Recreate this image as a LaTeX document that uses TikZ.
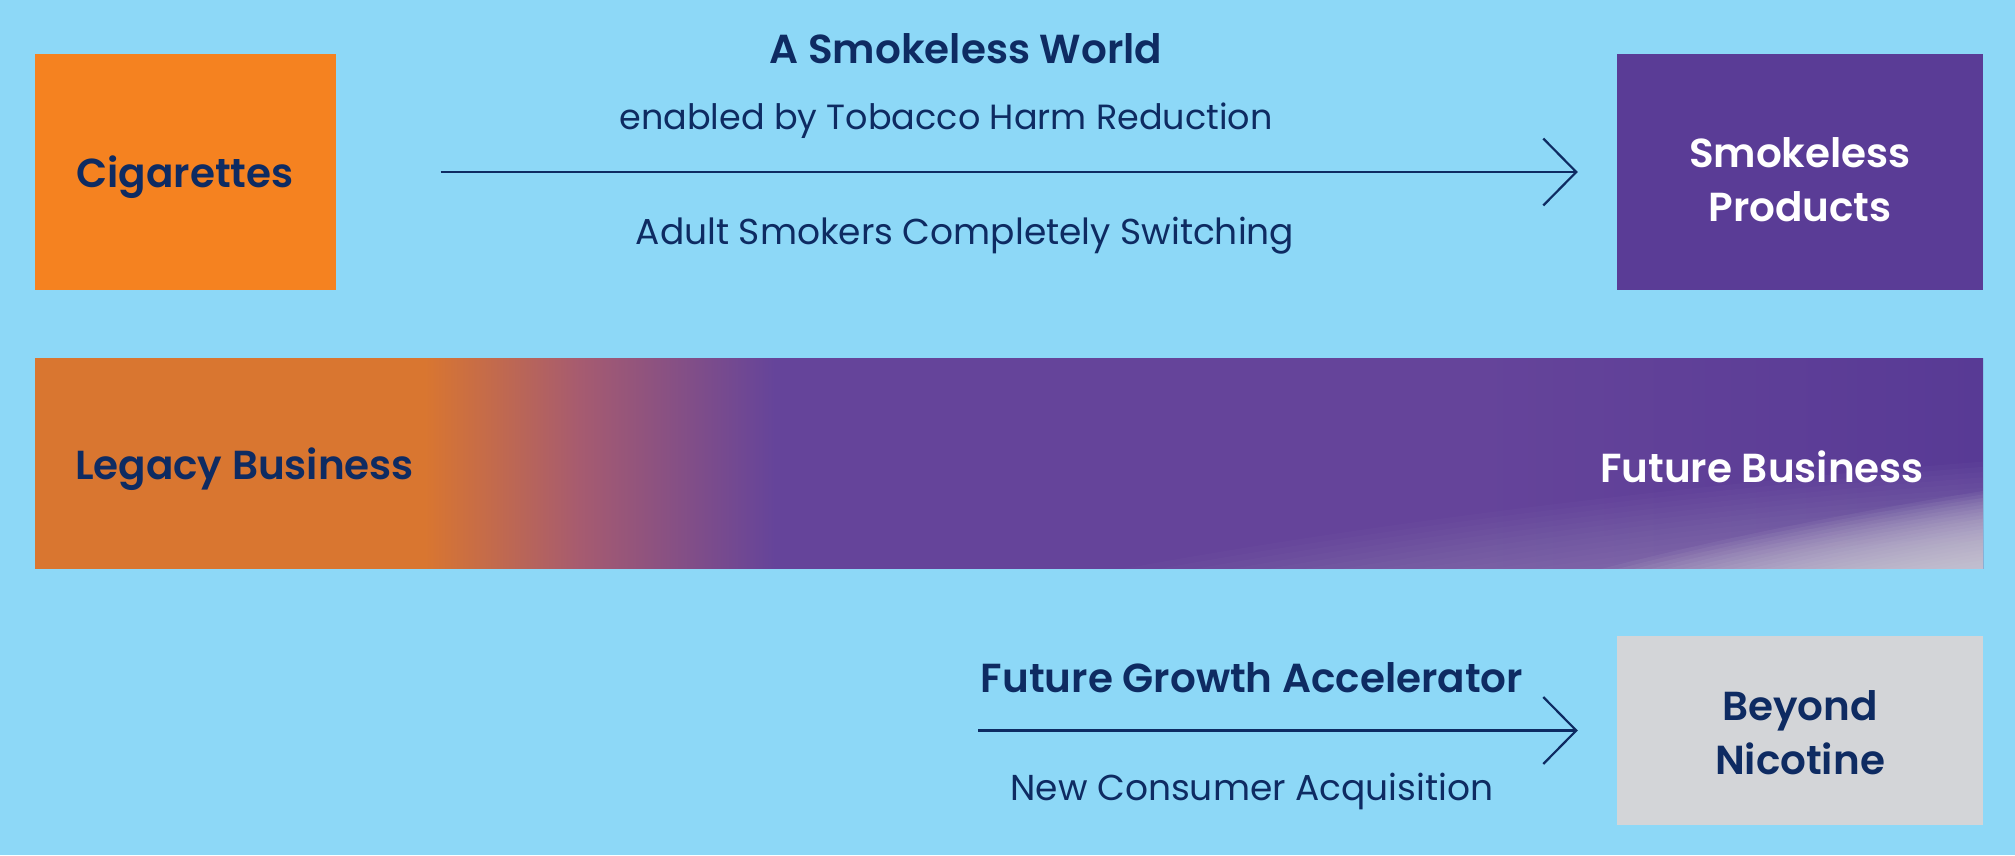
\documentclass[tikz,border=0pt]{standalone}
\usepackage{fontspec}
\setmainfont{Poppins}[BoldFont=Poppins SemiBold]
\usetikzlibrary{arrows.meta}
\definecolor{bgc}{HTML}{8DD8F7}
\definecolor{navy}{HTML}{0E2B62}
\definecolor{orng}{HTML}{F58220}
\definecolor{purp}{HTML}{5A3C96}
\definecolor{grayb}{HTML}{D3D5D8}
\definecolor{barO}{HTML}{D97630}
\definecolor{barM}{HTML}{A65B70}
\definecolor{barP}{HTML}{65449A}
\definecolor{barD}{HTML}{583A95}
\definecolor{glowc}{HTML}{D8D8DE}
\definecolor{lilac}{HTML}{A89CC8}
\pgfdeclarehorizontalshading{barshade}{100bp}{color(0bp)=(barO); color(35bp)=(barO); color(39bp)=(barM); color(44bp)=(barP); color(62bp)=(barP); color(75bp)=(barD); color(100bp)=(barD)}
\begin{document}
\begin{tikzpicture}[x=1pt,y=-1pt,
  boxnode/.style={inner sep=0pt, align=center, font=\fontsize{40.5}{54}\selectfont\bfseries},
  boldlbl/.style={inner sep=0pt, text=navy, font=\fontsize{40.5}{48}\selectfont\bfseries},
  reglbl/.style={inner sep=0pt, text=navy, font=\fontsize{36}{42}\selectfont},
  flow/.style={draw=navy, line width=2.5pt, -{Straight Barb[length=33pt,width=67pt,line width=2.2pt]}}]
\fill[bgc] (0,0) rectangle (2015,855);
% boxes
\node[boxnode, fill=orng, text=navy, minimum width=301, minimum height=236] (cig) at (185,172) {};
\node[boxnode, text=navy] (cigt) at (185,177) {Cigarettes};
\node[boxnode, fill=purp, text=white, minimum width=366, minimum height=236] (smk) at (1800,172) {};
\node[boxnode, text=white] (smkt) at (1800,180) {Smokeless\\Products};
\node[boxnode, fill=grayb, text=navy, minimum width=366, minimum height=189] (bn) at (1800,730.5) {};
\node[boxnode, text=navy] (bnt) at (1800,733) {Beyond\\Nicotine};
% gradient bar
\node[inner sep=0pt, minimum width=1948, minimum height=210, shading=barshade] (bar) at (1009,463) {};
\begin{scope}
  \clip (bar.north west) rectangle (bar.south east);
  \foreach \i in {1,...,30}
    \fill[lilac, opacity=0.045, rotate around={5:(1900,625)}] (1900,625) ellipse [x radius={42*\i}, y radius={5.2*\i}];
  \foreach \i in {1,...,30}
    \fill[glowc, opacity=0.07, rotate around={9:(2010,590)}] (2010,590) ellipse [x radius={24*\i}, y radius={3.4*\i}];
\end{scope}
\node[boldlbl, anchor=west] (legacy) at ([xshift=40,yshift=-6]bar.west) {Legacy Business};
\node[boldlbl, anchor=east, text=white] (future) at ([xshift=-59,yshift=-4]bar.east) {Future Business};
% top arrow
\node[boldlbl] (world) at (966,49) {A Smokeless World};
\node[reglbl, font=\fontsize{35}{42}\selectfont] (enabled) at (946,121) {enabled by Tobacco Harm Reduction};
\node[reglbl] (adult) at (965,236) {Adult Smokers Completely Switching};
\draw[flow, shorten <=105pt, shorten >=39pt] (cig.east) -- (smk.west);
% bottom arrow
\coordinate (start2) at (978,730.5);
\node[boldlbl] (fga) at (1252,678) {Future Growth Accelerator};
\node[reglbl] (nca) at (1252,791) {New Consumer Acquisition};
\draw[flow, shorten >=39pt] (start2) -- (bn.west);
\end{tikzpicture}
\end{document}
